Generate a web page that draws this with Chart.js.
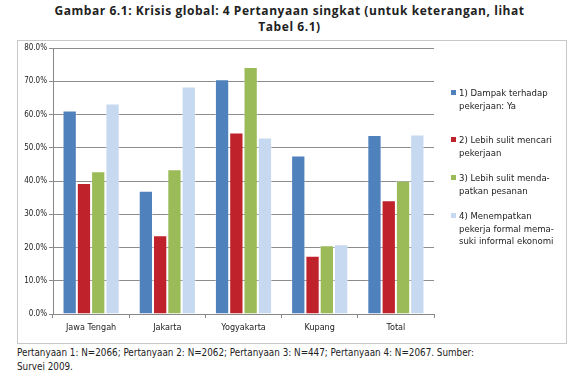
<!DOCTYPE html>
<html lang="id">
<head>
  <meta charset="UTF-8" />
  <title>Gambar 6.1</title>
  <script src="https://cdn.jsdelivr.net/npm/chart.js"></script>
  <style>
    body {
      margin: 0;
      width: 579px;
      height: 378px;
      background: #fff;
      position: relative;
      overflow: hidden;
      font-family: "Liberation Sans Narrow", "DejaVu Sans Condensed", sans-serif;
    }
    #title {
      position: absolute;
      left: 0; top: 3px;
      width: 579px;
      text-align: center;
      font-family: "Open Sans", sans-serif;
      font-weight: bold;
      font-size: 12px;
      line-height: 16px;
      letter-spacing: 0.55px;
      color: #222;
    }
    #box {
      position: absolute;
      left: 17px; top: 40px;
      width: 548px; height: 302px;
      border: 1px solid #c8c8c8;
    }
    #box canvas { position: absolute; left: 0; top: 0; }
    #legend {
      position: absolute;
      left: 433px; top: 0;
      font-size: 9.5px;
      color: #222;
    }
    .item {
      position: absolute;
      left: 0;
      width: 112px;
      line-height: 12.5px;
      padding-left: 8px;
      white-space: nowrap;
    }
    .item i {
      position: absolute;
      left: 0; top: 3px;
      width: 5px; height: 5px;
    }
    #note {
      position: absolute;
      left: 17px; top: 346px;
      font-size: 9.8px;
      line-height: 14px;
      color: #222;
    }
  </style>
</head>
<body>
  <div id="title">Gambar 6.1: Krisis global: 4 Pertanyaan singkat (untuk keterangan, lihat<br>Tabel 6.1)</div>
  <div id="box">
    <canvas id="c" width="548" height="302"></canvas>
    <div id="legend"></div>
  </div>
  <div id="note">Pertanyaan 1: N=2066; Pertanyaan 2: N=2062; Pertanyaan 3: N=447; Pertanyaan 4: N=2067. Sumber:<br>Survei 2009.</div>

  <script>
    const categories = ['Jawa Tengah', 'Jakarta', 'Yogyakarta', 'Kupang', 'Total'];
    const seriesNames = [
      ['1) Dampak terhadap', 'pekerjaan: Ya'],
      ['2) Lebih sulit mencari', 'pekerjaan'],
      ['3) Lebih sulit menda-', 'patkan pesanan'],
      ['4) Menempatkan', 'pekerja formal mema-', 'suki informal ekonomi']
    ];
    const q1Dampak = [61.2, 37.1, 70.6, 47.7, 53.8];
    const q2Mencari = [39.4, 23.7, 54.6, 17.5, 34.2];
    const q3Pesanan = [42.9, 43.5, 74.3, 20.7, 40.1];
    const q4Informal = [63.3, 68.4, 53.1, 21.0, 54.0];
    const colors = ['#4f81bd', '#c0222b', '#9bbb59', '#c6d9f0'];

    const values = [q1Dampak, q2Mencari, q3Pesanan, q4Informal];

    // legend in html because labels wrap over several lines
    const legendTops = [46, 93, 131, 169];
    const legend = document.getElementById('legend');
    seriesNames.forEach((lines, i) => {
      const d = document.createElement('div');
      d.className = 'item';
      d.style.top = legendTops[i] + 'px';
      d.innerHTML = '<i style="background:' + colors[i] + '"></i>' + lines.join('<br>');
      legend.appendChild(d);
    });

    const font = { family: '"Liberation Sans Narrow", "DejaVu Sans Condensed", sans-serif' };

    new Chart(document.getElementById('c'), {
      type: 'bar',
      data: {
        labels: categories,
        datasets: values.map((v, i) => ({
          label: seriesNames[i].join(' '),
          data: v,
          backgroundColor: colors[i],
          borderColor: 'rgba(255,255,255,0.35)',
          borderWidth: { left: 1, right: 1, top: 1, bottom: 0 },
          categoryPercentage: 0.75,
          barPercentage: 1
        }))
      },
      options: {
        responsive: false,
        animation: false,
        layout: { padding: { top: 7, right: 132, left: 0, bottom: 0 } },
        plugins: { legend: { display: false }, tooltip: { enabled: false } },
        scales: {
          x: {
            afterFit: s => { s.height = 29; },
            grid: { offset: true, drawOnChartArea: false, color: '#888', tickLength: 4 },
            border: { color: '#888' },
            ticks: { color: '#222', font: { ...font, size: 9 }, padding: 4 }
          },
          y: {
            min: 0, max: 80,
            afterFit: s => { s.width = 35; },
            grid: { color: '#8c8c8c', tickLength: 4 },
            border: { color: '#888' },
            ticks: {
              stepSize: 10,
              color: '#222',
              font: { ...font, size: 8 },
              padding: 2,
              callback: v => v.toFixed(1) + '%'
            }
          }
        }
      }
    });
  </script>
</body>
</html>
